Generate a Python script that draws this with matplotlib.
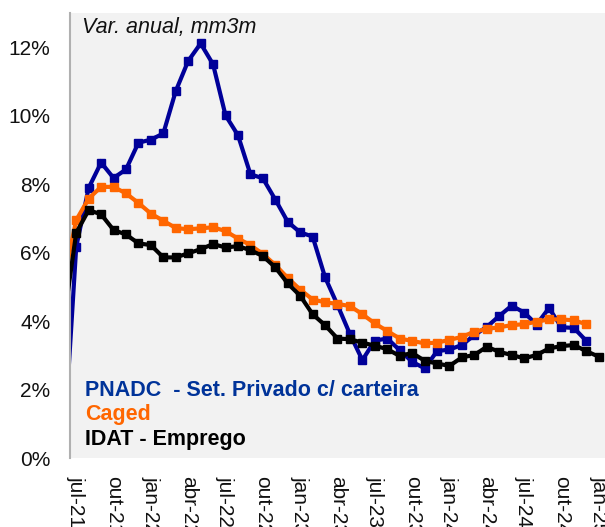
import matplotlib
matplotlib.use("Agg")
import matplotlib.pyplot as plt
import numpy as np

plt.rcParams['font.family'] = ['Liberation Sans', 'DejaVu Sans']

# Month categories (first one, jun-21, lies just left of the visible area)
mes = ['jan', 'fev', 'mar', 'abr', 'mai', 'jun', 'jul', 'ago', 'set', 'out', 'nov', 'dez']
months = []
y, m = 2021, 5
while (y, m) <= (2025, 0):
    months.append(f"{mes[m]}-{str(y)[2:]}")
    m += 1
    if m == 12:
        m = 0
        y += 1

pnadc = [0.3, 6.17, 7.89, 8.63, 8.18, 8.43, 9.21, 9.30, 9.48, 10.72, 11.60, 12.11, 11.50,
         10.01, 9.43, 8.29, 8.17, 7.55, 6.90, 6.59, 6.47, 5.28, 4.47, 3.62, 2.86, 3.43,
         3.49, 3.15, 2.81, 2.62, 3.12, 3.17, 3.30, 3.59, 3.83, 4.15, 4.45, 4.25, 3.90,
         4.38, 3.82, 3.80, 3.42, np.nan]
caged = [5.2, 6.95, 7.58, 7.92, 7.92, 7.73, 7.45, 7.14, 6.93, 6.72, 6.68, 6.71, 6.74,
         6.63, 6.41, 6.22, 5.96, 5.64, 5.26, 4.92, 4.63, 4.55, 4.50, 4.44, 4.20, 3.93,
         3.71, 3.49, 3.42, 3.35, 3.37, 3.45, 3.54, 3.69, 3.77, 3.82, 3.88, 3.91, 3.98,
         4.05, 4.05, 4.02, 3.91, np.nan]
idat = [4.0, 6.58, 7.24, 7.12, 6.66, 6.53, 6.27, 6.22, 5.86, 5.86, 5.98, 6.10, 6.25,
        6.15, 6.19, 6.07, 5.90, 5.57, 5.10, 4.74, 4.20, 3.88, 3.49, 3.47, 3.37, 3.28,
        3.18, 2.98, 3.07, 2.84, 2.76, 2.69, 2.94, 3.01, 3.25, 3.10, 3.01, 2.91, 3.01,
        3.20, 3.27, 3.30, 3.12, 2.96]

series_names = ['PNADC  - Set. Privado c/ carteira', 'Caged', 'IDAT - Emprego']
line_colors = ['#000099', '#ff6600', '#000000']
text_colors = ['#003399', '#ff6600', '#000000']
yticks = [0, 2, 4, 6, 8, 10, 12]

fig = plt.figure(figsize=(6.05, 5.27), dpi=100)
ax = fig.add_axes([70/605, 1-458/527, 535/605, 445/527])
ax.set_facecolor('#f2f2f2')

x = np.arange(len(months))
for vals, c, z in zip([pnadc, caged, idat], line_colors, [2, 3, 4]):
    ax.plot(x, np.array(vals, dtype=float), color=c, lw=3, marker='s', ms=6,
            mec=c, mfc=c, zorder=z, solid_joinstyle='miter')

ax.set_xlim(0.5, len(months) - 0.5)
ax.set_ylim(0, 13)
ax.set_yticks(yticks)
ax.set_yticklabels([f"{v}%" for v in yticks])
tick_idx = list(range(1, len(months), 3))
ax.set_xticks(tick_idx)
ax.set_xticklabels([months[i] for i in tick_idx], rotation=270, ha='center', va='top')
ax.tick_params(axis='y', length=0, pad=14, labelsize=15, colors='#111111')
ax.tick_params(axis='x', length=0, pad=13, labelsize=15, colors='#111111')

for s in ['top', 'right', 'bottom']:
    ax.spines[s].set_visible(False)
ax.spines['left'].set_color('#b0b0b0')
ax.spines['left'].set_linewidth(1.5)

ax.text(0.0224, 0.954, 'Var. anual, mm3m', transform=ax.transAxes, fontsize=15.5,
        style='italic', va='baseline', ha='left', color='#111111')

ys = [0.139, 0.0854, 0.0292]
for name, c, yy in zip(series_names, text_colors, ys):
    ax.text(0.028, yy, name, transform=ax.transAxes, fontsize=15.5, fontweight='bold',
            color=c, va='baseline', ha='left', zorder=6)

fig.savefig('out.png', dpi=100)
